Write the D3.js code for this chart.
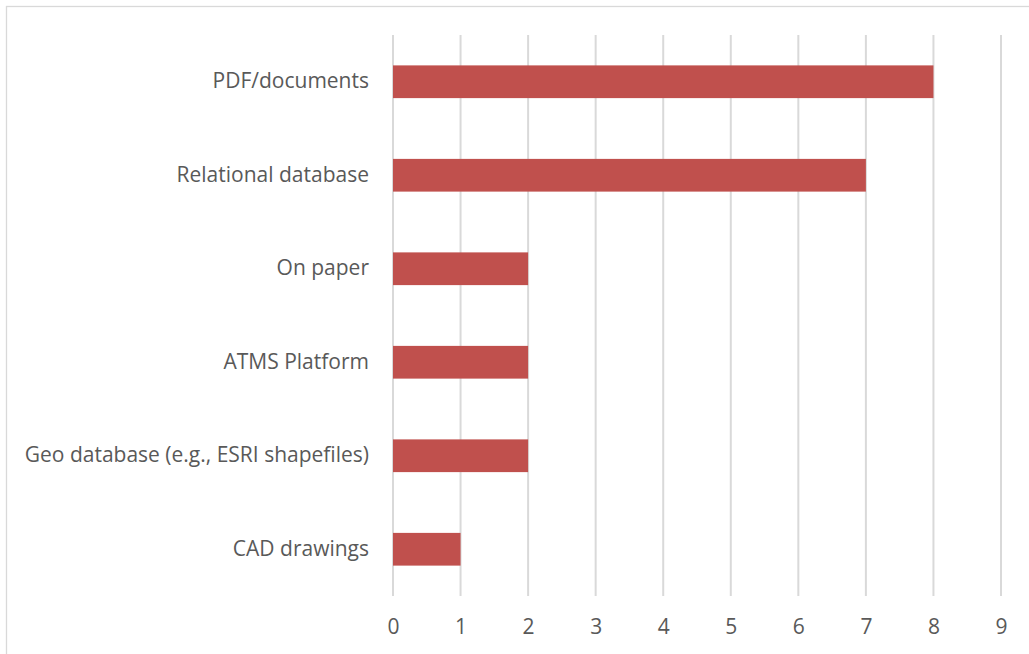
<!DOCTYPE html>
<html><head><meta charset="utf-8">
<script src="https://cdn.jsdelivr.net/npm/d3@7"></script>
<style>body{margin:0;background:#fff;overflow:hidden}text{font-family:"Open Sans",sans-serif;fill:#595959}</style>
</head><body><svg id="c" width="1029" height="654"></svg>
<script>
const categories = ["PDF/documents","Relational database","On paper","ATMS Platform","Geo database (e.g., ESRI shapefiles)","CAD drawings"];
const values = [8,7,2,2,2,1];
const ticks = [0,1,2,3,4,5,6,7,8,9];

const svg = d3.select("#c");
svg.append("rect").attr("x",6.5).attr("y",6.5).attr("width",1040).attr("height",670)
  .attr("fill","#fff").attr("stroke","#D9D9D9").attr("stroke-width",1.3);

const x = d3.scaleLinear().domain([0,9]).range([393,1001]);
const y = d3.scaleBand().domain(categories).range([35,596]).paddingInner(0.65).paddingOuter(0.325);

const g = svg.append("g");
g.selectAll("line.grid").data(ticks).join("line")
  .attr("x1",d=>x(d)).attr("x2",d=>x(d)).attr("y1",35).attr("y2",596)
  .attr("stroke","#D9D9D9").attr("stroke-width",2);

g.selectAll("rect.bar").data(values).join("rect")
  .attr("x",x(0)).attr("y",(d,i)=>y(categories[i]))
  .attr("width",d=>x(d)-x(0)).attr("height",y.bandwidth())
  .attr("fill","#C0504D");

const xAxis = svg.append("g").attr("transform","translate(0,596)")
  .call(d3.axisBottom(x).tickValues(ticks).tickSize(0).tickPadding(23));
xAxis.select(".domain").remove();
xAxis.selectAll("text").style("font-size","21px").attr("fill","#595959");

const yAxis = svg.append("g").attr("transform","translate(393,0)")
  .call(d3.axisLeft(y).tickSize(0).tickPadding(24));
yAxis.select(".domain").remove();
yAxis.selectAll("text").style("font-size","21px").attr("fill","#595959");
</script></body></html>
